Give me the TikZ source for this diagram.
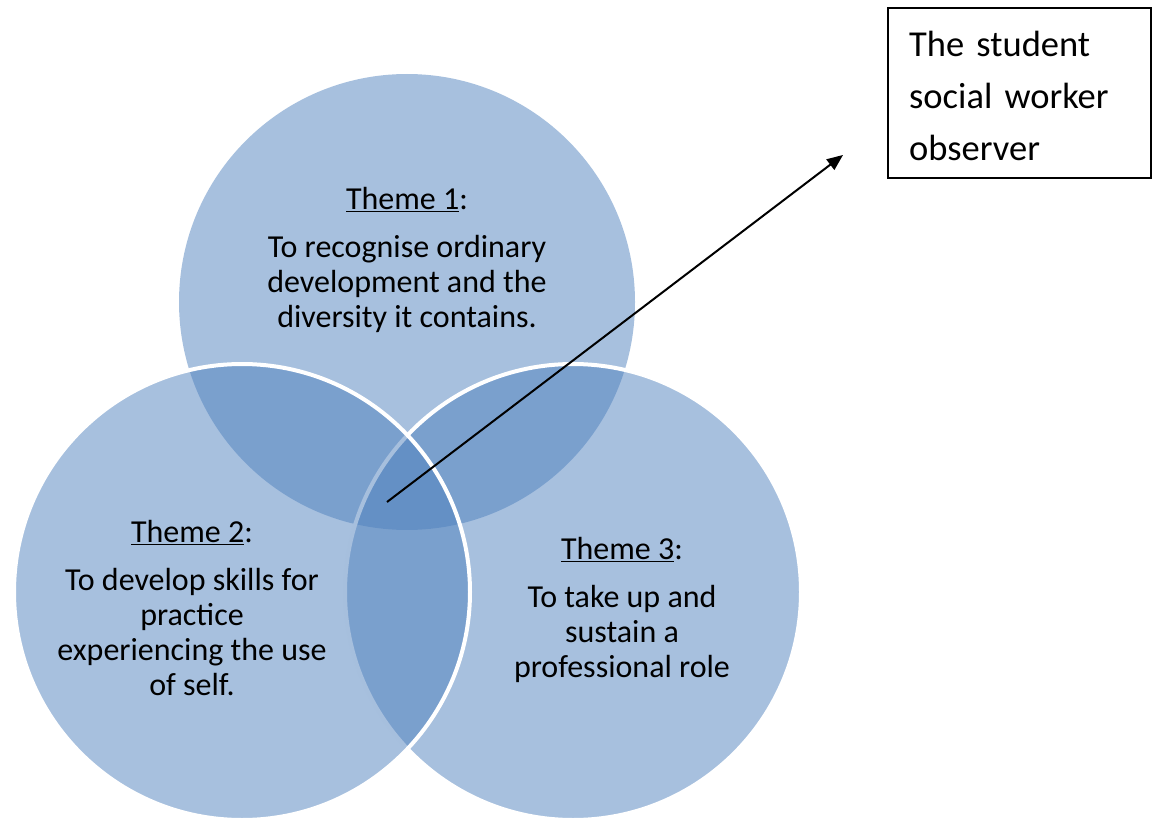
\documentclass[tikz,border=0pt]{standalone}
\usepackage{fontspec}
\setmainfont{Carlito}
\usetikzlibrary{arrows.meta}
\definecolor{venn}{HTML}{4F81BD}
\tikzset{
  venncircle/.style={fill=venn, fill opacity=0.5},
  vennedge/.style={draw=white, line width=4pt},
  themetext/.style={align=center, font=\fontsize{32}{35}\selectfont, text=black},
  obstext/.style={text width=230pt, align=left, font=\fontsize{36.5}{52}\selectfont, inner xsep=0pt},
  obsframe/.style={draw=black, line width=1.5pt},
  pointer/.style={draw=black, line width=2pt, -{Triangle[length=16pt,width=13pt]}}
}
\begin{document}
\begin{tikzpicture}[x=1pt,y=-1pt]
\useasboundingbox (0,0) rectangle (1159,821);
% circles: 1, then 3, then 2
\path[venncircle] (407,302) circle[radius=228];
\path[venncircle, vennedge] (573,592) circle[radius=228];
\path[venncircle, vennedge] (242,592) circle[radius=228];
% texts
\node[themetext] (t1) at (407,260) {\underline{Theme 1}:\\[13pt]To recognise ordinary\\development and the\\diversity it contains.};
\node[themetext] (t2) at (192,608) {\underline{Theme 2}:\\[13pt]To develop skills for\\practice\\experiencing the use\\of self.};
\node[themetext] (t3) at (622,610) {\underline{Theme 3}:\\[13pt]To take up and\\sustain a\\professional role};
\draw[obsframe] (888,8) rectangle (1151,178);
\node[obstext, anchor=north west] (obs) at (909,28) {The student\\social worker\\observer};
\coordinate (start) at (387,502);
\coordinate (tip) at (843,155);
\draw[pointer] (start) -- (tip);
\end{tikzpicture}
\end{document}
